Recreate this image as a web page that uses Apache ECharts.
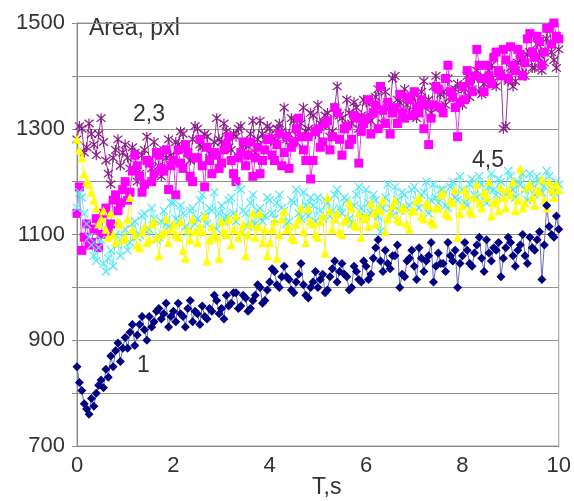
<!DOCTYPE html>
<html>
<head>
<meta charset="utf-8">
<script src="https://cdn.jsdelivr.net/npm/echarts@6/dist/echarts.min.js"></script>
<style>html,body{margin:0;padding:0;background:#fff;}#c{width:574px;height:501px;}</style>
</head>
<body>
<div id="c"></div>
<script>
// Sampling step of the recording (s)
const timeStep = 0.05;
const yTicks = [700, 900, 1100, 1300, 1500];
const xTicks = [0, 2, 4, 6, 8, 10];

// Series 1 (navy diamonds)
const s1 = [
850,820,805,780,770,760,790,775,800,815,825,810,845,830,870,850,880,895,860,885,
905,885,915,930,890,910,930,945,920,900,945,925,935,955,960,940,950,970,925,945,
955,935,970,950,945,925,960,975,935,955,950,930,965,945,940,960,955,985,975,950,
960,940,985,965,970,990,990,960,965,985,980,955,960,975,985,1005,1000,970,975,995,
1010,1035,1030,1005,1000,1020,1040,1020,1015,995,990,1010,1025,1045,1005,985,980,1000,1010,1030,
1000,1015,1025,990,995,1020,1035,1050,1010,1030,1045,1025,1020,995,1000,1040,1030,1015,1010,1050,
1040,1015,1025,1055,1075,1090,1050,1030,1070,1045,1035,1060,1060,1080,1000,1025,1020,1050,1055,1070,
1040,1015,1075,1055,1030,1050,1060,1085,1010,1040,1065,1045,1045,1030,1085,1060,1050,1070,1000,1045,
1060,1085,1070,1045,1040,1065,1080,1095,1055,1030,1090,1065,1050,1075,1070,1085,1020,1055,1075,1095,
1085,1060,1040,1070,1080,1100,1060,1045,1095,1075,1070,1090,1105,1015,1080,1155,1115,1100,1095,1135,
1110];
// Series 2 (magenta squares)
const s2 = [
1140,1190,1070,1095,1120,1080,1085,1110,1130,1075,1100,1140,1150,1105,1120,1165,1175,1145,1160,1185,
1200,1165,1180,1220,1250,1230,1210,1180,1195,1240,1235,1200,1215,1255,1250,1225,1220,1260,1185,1230,
1240,1175,1260,1235,1225,1270,1255,1210,1200,1245,1245,1280,1230,1190,1265,1240,1215,1255,1250,1225,
1235,1260,1270,1285,1240,1215,1200,1245,1255,1275,1230,1250,1275,1210,1245,1265,1215,1240,1260,1280,
1280,1250,1240,1270,1290,1230,1255,1285,1225,1265,1275,1300,1320,1285,1260,1240,1285,1205,1240,1295,
1300,1265,1275,1310,1315,1260,1285,1340,1330,1280,1250,1300,1305,1270,1280,1325,1320,1235,1295,1310,
1320,1355,1290,1330,1345,1300,1380,1335,1310,1350,1290,1330,1340,1310,1365,1330,1320,1360,1355,1325,
1370,1340,1330,1355,1300,1345,1270,1320,1345,1380,1375,1340,1330,1395,1420,1370,1360,1340,1285,1350,
1380,1355,1410,1390,1370,1400,1450,1420,1395,1370,1420,1400,1385,1435,1445,1410,1400,1450,1430,1395,
1455,1420,1410,1450,1440,1400,1425,1470,1480,1445,1435,1475,1465,1420,1445,1490,1490,1460,1500,1475,
1470];
// Series 3 (purple asterisks)
const s3 = [
1280,1305,1300,1255,1265,1310,1290,1270,1250,1290,1320,1275,1240,1215,1195,1245,1260,1280,1230,1255,
1270,1245,1225,1265,1255,1200,1215,1250,1260,1285,1240,1225,1275,1255,1230,1210,1260,1245,1280,1250,
1245,1275,1270,1295,1290,1260,1255,1240,1280,1305,1300,1270,1265,1290,1285,1245,1250,1275,1320,1280,
1275,1310,1295,1265,1260,1290,1285,1300,1305,1270,1270,1250,1290,1315,1255,1280,1315,1290,1280,1305,
1300,1285,1275,1300,1310,1295,1340,1280,1290,1320,1315,1275,1285,1310,1340,1295,1300,1330,1325,1290,
1345,1310,1305,1325,1330,1285,1295,1340,1380,1325,1320,1300,1355,1330,1310,1350,1340,1300,1325,1355,
1350,1320,1315,1340,1360,1375,1335,1310,1370,1345,1340,1395,1400,1355,1350,1325,1375,1345,1330,1360,
1365,1320,1345,1370,1390,1345,1355,1330,1380,1400,1340,1365,1370,1345,1395,1360,1360,1375,1385,1350,
1345,1375,1400,1360,1375,1395,1410,1370,1365,1385,1395,1410,1420,1390,1380,1405,1405,1300,1305,1390,
1415,1380,1390,1425,1430,1405,1400,1440,1445,1415,1415,1460,1440,1410,1425,1470,1505,1445,1430,1415,
1450];
// Series 4 (yellow triangles)
const s4 = [
1280,1260,1245,1215,1200,1195,1180,1165,1150,1120,1130,1145,1110,1095,1140,1100,1085,1125,1120,1090,
1095,1130,1170,1110,1100,1080,1075,1105,1115,1085,1090,1120,1125,1095,1060,1100,1105,1130,1085,1110,
1120,1100,1095,1125,1070,1055,1110,1090,1130,1105,1085,1115,1105,1135,1050,1090,1115,1100,1095,1055,
1125,1105,1100,1130,1080,1110,1135,1095,1105,1120,1060,1100,1120,1140,1095,1115,1140,1085,1110,1060,
1085,1110,1125,1055,1100,1130,1145,1110,1115,1095,1090,1120,1130,1150,1105,1085,1150,1125,1120,1100,
1095,1125,1135,1065,1170,1145,1110,1130,1140,1105,1100,1125,1130,1160,1150,1120,1115,1140,1095,1130,
1135,1115,1160,1140,1120,1150,1145,1165,1105,1130,1140,1155,1165,1130,1125,1150,1150,1120,1110,1145,
1145,1165,1170,1135,1130,1160,1155,1125,1120,1150,1150,1175,1180,1140,1135,1165,1160,1185,1095,1140,
1155,1185,1175,1145,1140,1170,1195,1160,1150,1180,1170,1200,1135,1160,1165,1145,1190,1170,1150,1185,
1175,1200,1145,1165,1225,1150,1160,1190,1195,1170,1155,1185,1180,1205,1165,1150,1200,1185,1170,1195,
1185];
// Series 5 (cyan crosses)
const s5 = [
1150,1180,1170,1140,1120,1095,1080,1060,1050,1075,1090,1045,1030,1055,1070,1040,1100,1080,1060,1095,
1110,1070,1085,1120,1125,1095,1100,1135,1140,1105,1110,1150,1130,1090,1095,1125,1145,1120,1115,1160,
1160,1130,1125,1155,1140,1115,1105,1145,1150,1120,1130,1165,1175,1135,1120,1150,1145,1180,1110,1140,
1155,1125,1135,1165,1170,1140,1125,1190,1185,1145,1140,1115,1160,1175,1120,1145,1150,1125,1135,1170,
1165,1140,1130,1160,1175,1150,1145,1120,1125,1165,1160,1185,1140,1130,1180,1155,1135,1170,1155,1125,
1170,1145,1130,1165,1160,1135,1145,1175,1185,1150,1140,1170,1165,1130,1120,1155,1175,1190,1150,1135,
1185,1160,1140,1175,1165,1135,1105,1150,1170,1195,1150,1135,1190,1165,1145,1180,1175,1150,1155,1185,
1190,1165,1150,1175,1180,1200,1140,1165,1195,1170,1160,1185,1185,1155,1150,1190,1200,1170,1165,1210,
1185,1160,1155,1195,1205,1175,1170,1210,1195,1165,1160,1190,1215,1185,1175,1205,1200,1170,1180,1220,
1210,1185,1170,1200,1195,1215,1185,1165,1215,1195,1175,1210,1200,1180,1190,1220,1210,1185,1180,1200,
1195];

const pairs = arr => arr.map((v, i) => [+(i * timeStep).toFixed(2), v]);

const font = 'Liberation Sans, Arial, sans-serif';
const xShape = 'path://M0,1L1,0L5,4L9,0L10,1L6,5L10,9L9,10L5,6L1,10L0,9L4,5Z';
const starShape = 'path://M0,1L1,0L5,4L9,0L10,1L6,5L10,9L9,10L5,6L1,10L0,9L4,5Z M4.4,-1L5.6,-1L5.6,11L4.4,11Z';

function mk(name, data, symbol, size, color, lineColor) {
  return {
    name, type: 'line', data: pairs(data), symbol, symbolSize: size,
    showSymbol: true, showAllSymbol: true, animation: false,
    itemStyle: {color: color},
    lineStyle: {color: lineColor, width: 1},
    emphasis: {disabled: true}
  };
}

const chart = echarts.init(document.getElementById('c'), null, {renderer: 'canvas'});
chart.setOption({
  backgroundColor: '#ffffff',
  animation: false,
  grid: {left: 77, right: 9, top: 23, bottom: 55, show: true, borderColor: '#9a9a9a', borderWidth: 1, backgroundColor: 'transparent'},
  xAxis: {
    type: 'value', min: 0, max: 10, interval: 2,
    axisLine: {show: true, lineStyle: {color: '#8a8a8a', width: 1}},
    axisTick: {show: false},
    splitLine: {show: false},
    axisLabel: {fontFamily: font, fontSize: 22, color: '#333', margin: 9,
      formatter: v => xTicks.includes(v) ? String(v) : ''}
  },
  yAxis: {
    type: 'value', min: 700, max: 1500, interval: 100,
    axisLine: {show: true, lineStyle: {color: '#8a8a8a', width: 1}},
    axisTick: {show: true, inside: false, length: 5, lineStyle: {color: '#8a8a8a'}},
    splitLine: {show: true, lineStyle: {color: '#8f8f8f', width: 1}},
    axisLabel: {fontFamily: font, fontSize: 22, color: '#333', margin: 12,
      formatter: v => yTicks.includes(v) ? String(v) : ''}
  },
  graphic: [
    {type: 'text', left: 89, top: 17, style: {text: 'Area, pxl', font: '23px ' + font, fill: '#333'}},
    {type: 'text', left: 133, top: 103, style: {text: '2,3', font: '23px ' + font, fill: '#333'}},
    {type: 'text', left: 472, top: 149, style: {text: '4,5', font: '23px ' + font, fill: '#333'}},
    {type: 'text', left: 137, top: 354, style: {text: '1', font: '23px ' + font, fill: '#333'}},
    {type: 'text', left: 312, top: 476, style: {text: 'T,s', font: '23px ' + font, fill: '#333'}}
  ],
  series: [
    mk('3', s3, starShape, 10, '#8b1f8b', '#9a3a9a'),
    mk('2', s2, 'rect', 9, '#ff00ff', '#e040e0'),
    mk('5', s5, xShape, 9, '#55e8f5', '#70eef8'),
    mk('4', s4, 'triangle', 9, '#ffff00', '#f5f040'),
    mk('1', s1, 'diamond', 9, '#000080', '#6a6aa8')
  ]
});
</script>
</body>
</html>
